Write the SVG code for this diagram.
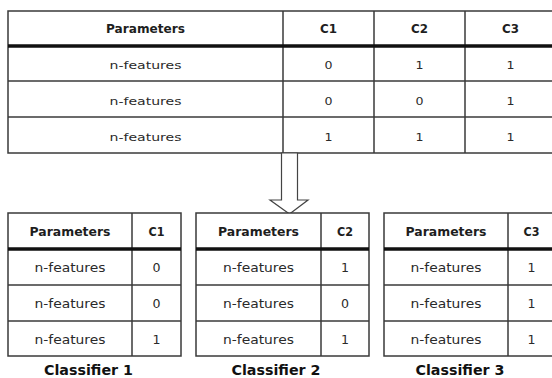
<svg xmlns="http://www.w3.org/2000/svg" width="552" height="378" viewBox="0 0 552 378">
<style>
.bg{fill:#ffffff}
.cell{fill:#ffffff;stroke:#3a3a3a;stroke-width:1.5}
.ln{stroke:#3a3a3a;stroke-width:1.5;fill:none}
.thick{stroke:#111111;stroke-width:3.5}
.h{font-family:"DejaVu Sans",Verdana,sans-serif;font-weight:bold;font-size:11.4px;fill:#1e1e1e;text-anchor:middle}
.t{font-family:"DejaVu Sans",Verdana,sans-serif;font-size:10.8px;fill:#2a2a2a;text-anchor:middle}
.tb{font-family:"DejaVu Sans",Verdana,sans-serif;font-size:12px;fill:#2a2a2a;text-anchor:middle}
.cap{font-family:"DejaVu Sans",Verdana,sans-serif;font-weight:bold;font-size:13.7px;fill:#111111;text-anchor:middle}
.arrow{fill:#ffffff;stroke:#444444;stroke-width:1.2}
</style>
<rect class="bg" x="0" y="0" width="552" height="378"/>

<g id="main-table">
<rect class="cell" x="8" y="11" width="548" height="142"/>
<line class="ln" x1="283" y1="11" x2="283" y2="153"/>
<line class="ln" x1="374" y1="11" x2="374" y2="153"/>
<line class="ln" x1="465" y1="11" x2="465" y2="153"/>
<line class="ln" x1="8" y1="81" x2="556" y2="81"/>
<line class="ln" x1="8" y1="117" x2="556" y2="117"/>
<line class="thick" x1="8" y1="46" x2="556" y2="46"/>
<text class="h" x="145.5" y="33" textLength="79" lengthAdjust="spacingAndGlyphs">Parameters</text>
<text class="h" x="328.5" y="33" textLength="17" lengthAdjust="spacingAndGlyphs">C1</text>
<text class="h" x="419.5" y="33" textLength="17" lengthAdjust="spacingAndGlyphs">C2</text>
<text class="h" x="510.5" y="33" textLength="17" lengthAdjust="spacingAndGlyphs">C3</text>
<text class="t" x="145.5" y="69" textLength="72" lengthAdjust="spacingAndGlyphs">n-features</text>
<text class="t" x="145.5" y="105" textLength="72" lengthAdjust="spacingAndGlyphs">n-features</text>
<text class="t" x="145.5" y="141" textLength="72" lengthAdjust="spacingAndGlyphs">n-features</text>
<text class="t" x="328.5" y="69" textLength="8" lengthAdjust="spacingAndGlyphs">0</text>
<text class="t" x="419.5" y="69" textLength="8" lengthAdjust="spacingAndGlyphs">1</text>
<text class="t" x="510.5" y="69" textLength="8" lengthAdjust="spacingAndGlyphs">1</text>
<text class="t" x="328.5" y="105" textLength="8" lengthAdjust="spacingAndGlyphs">0</text>
<text class="t" x="419.5" y="105" textLength="8" lengthAdjust="spacingAndGlyphs">0</text>
<text class="t" x="510.5" y="105" textLength="8" lengthAdjust="spacingAndGlyphs">1</text>
<text class="t" x="328.5" y="141" textLength="8" lengthAdjust="spacingAndGlyphs">1</text>
<text class="t" x="419.5" y="141" textLength="8" lengthAdjust="spacingAndGlyphs">1</text>
<text class="t" x="510.5" y="141" textLength="8" lengthAdjust="spacingAndGlyphs">1</text>
</g>

<g id="connectors">
<path class="arrow" d="M281.5,153 L297.5,153 L297.5,200 L308,200 L289.5,214 L270,200 L281.5,200 Z"/>
</g>

<g id="classifier-1">
<rect class="cell" x="8" y="213" width="173" height="143"/>
<line class="ln" x1="132" y1="213" x2="132" y2="356"/>
<line class="ln" x1="8" y1="285" x2="181" y2="285"/>
<line class="ln" x1="8" y1="321" x2="181" y2="321"/>
<line class="thick" x1="8" y1="249" x2="181" y2="249"/>
<text class="h" x="70" y="235.5" textLength="81" lengthAdjust="spacingAndGlyphs">Parameters</text>
<text class="h" x="156.5" y="235.5" textLength="16" lengthAdjust="spacingAndGlyphs">C1</text>
<text class="tb" x="70" y="272" textLength="71" lengthAdjust="spacingAndGlyphs">n-features</text>
<text class="tb" x="70" y="308" textLength="71" lengthAdjust="spacingAndGlyphs">n-features</text>
<text class="tb" x="70" y="344" textLength="71" lengthAdjust="spacingAndGlyphs">n-features</text>
<text class="tb" x="156.5" y="272" textLength="8" lengthAdjust="spacingAndGlyphs">0</text>
<text class="tb" x="156.5" y="308" textLength="8" lengthAdjust="spacingAndGlyphs">0</text>
<text class="tb" x="156.5" y="344" textLength="8" lengthAdjust="spacingAndGlyphs">1</text>
<text class="cap" x="88.5" y="375" textLength="89" lengthAdjust="spacingAndGlyphs">Classifier 1</text>
</g>

<g id="classifier-2">
<rect class="cell" x="196" y="213" width="173" height="143"/>
<line class="ln" x1="321" y1="213" x2="321" y2="356"/>
<line class="ln" x1="196" y1="285" x2="369" y2="285"/>
<line class="ln" x1="196" y1="321" x2="369" y2="321"/>
<line class="thick" x1="196" y1="249" x2="369" y2="249"/>
<text class="h" x="258.5" y="235.5" textLength="81" lengthAdjust="spacingAndGlyphs">Parameters</text>
<text class="h" x="345" y="235.5" textLength="16" lengthAdjust="spacingAndGlyphs">C2</text>
<text class="tb" x="258.5" y="272" textLength="71" lengthAdjust="spacingAndGlyphs">n-features</text>
<text class="tb" x="258.5" y="308" textLength="71" lengthAdjust="spacingAndGlyphs">n-features</text>
<text class="tb" x="258.5" y="344" textLength="71" lengthAdjust="spacingAndGlyphs">n-features</text>
<text class="tb" x="345" y="272" textLength="8" lengthAdjust="spacingAndGlyphs">1</text>
<text class="tb" x="345" y="308" textLength="8" lengthAdjust="spacingAndGlyphs">0</text>
<text class="tb" x="345" y="344" textLength="8" lengthAdjust="spacingAndGlyphs">1</text>
<text class="cap" x="276" y="375" textLength="89" lengthAdjust="spacingAndGlyphs">Classifier 2</text>
</g>

<g id="classifier-3">
<rect class="cell" x="384" y="213" width="171" height="143"/>
<line class="ln" x1="508" y1="213" x2="508" y2="356"/>
<line class="ln" x1="384" y1="285" x2="555" y2="285"/>
<line class="ln" x1="384" y1="321" x2="555" y2="321"/>
<line class="thick" x1="384" y1="249" x2="555" y2="249"/>
<text class="h" x="446" y="235.5" textLength="81" lengthAdjust="spacingAndGlyphs">Parameters</text>
<text class="h" x="531.5" y="235.5" textLength="16" lengthAdjust="spacingAndGlyphs">C3</text>
<text class="tb" x="446" y="272" textLength="71" lengthAdjust="spacingAndGlyphs">n-features</text>
<text class="tb" x="446" y="308" textLength="71" lengthAdjust="spacingAndGlyphs">n-features</text>
<text class="tb" x="446" y="344" textLength="71" lengthAdjust="spacingAndGlyphs">n-features</text>
<text class="tb" x="531.5" y="272" textLength="8" lengthAdjust="spacingAndGlyphs">1</text>
<text class="tb" x="531.5" y="308" textLength="8" lengthAdjust="spacingAndGlyphs">1</text>
<text class="tb" x="531.5" y="344" textLength="8" lengthAdjust="spacingAndGlyphs">1</text>
<text class="cap" x="460" y="375" textLength="89" lengthAdjust="spacingAndGlyphs">Classifier 3</text>
</g>
</svg>
